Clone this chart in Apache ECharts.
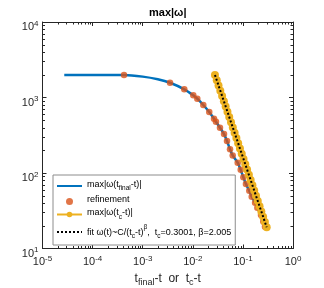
<!DOCTYPE html>
<html><head><meta charset="utf-8">
<script src="https://cdn.jsdelivr.net/npm/echarts@6/dist/echarts.min.js"></script>
<style>html,body{margin:0;padding:0;background:#fff}#c{width:324px;height:288px}</style>
</head><body><div id="c"></div>
<script>
// max|omega(t_final - t)| curve
const blueT = [2.72e-5, 5e-5, 1e-4, 2e-4, 4.24e-4, 1e-3, 2e-3, 3.51e-3, 6.76e-3, 0.01023, 0.0123, 0.0162, 0.0213, 0.0265, 0.029, 0.0349, 0.042, 0.0482, 0.0553, 0.0626, 0.0787, 0.0904, 0.102, 0.115, 0.134, 0.150, 0.175, 0.194, 0.230, 0.255, 0.276];
const blueW = [1986, 1986, 1986, 1985, 1984, 1890, 1745, 1570, 1285, 1069, 964, 796, 643, 524, 478, 397, 328, 266, 206, 171, 137, 110, 87.8, 71.4, 58.3, 48.6, 40.5, 34.7, 27.8, 22.7, 19.4];
// refinement points
const refT = [4.24e-4, 3.51e-3, 6.76e-3, 0.01023, 0.0123, 0.0162, 0.0213, 0.0265, 0.029, 0.0349, 0.042, 0.0482, 0.0553, 0.0626, 0.0787, 0.0904, 0.102, 0.115, 0.134, 0.150, 0.175, 0.194, 0.230, 0.255, 0.276];
const refW = [1984, 1570, 1285, 1069, 964, 796, 643, 524, 478, 397, 328, 266, 206, 171, 137, 110, 87.8, 71.4, 58.3, 48.6, 40.5, 34.7, 27.8, 22.7, 19.4];
// max|omega(t_c - t)|
const ycT = [0.0277, 0.03007, 0.03263, 0.03541, 0.03845, 0.04173, 0.04529, 0.04916, 0.05337, 0.05793, 0.06288, 0.06825, 0.07408, 0.0804, 0.08727, 0.09473, 0.1028, 0.1116, 0.1211, 0.1315, 0.1427, 0.1549, 0.1681, 0.1825, 0.1981, 0.2150, 0.2334, 0.2533, 0.2749, 0.2985];
const ycW = [1986, 1692, 1442, 1228, 1047, 891.9, 759.8, 647.4, 551.4, 469.9, 400.4, 341.1, 290.6, 247.6, 211.0, 179.7, 153.1, 130.5, 111.1, 94.7, 80.7, 68.7, 58.6, 49.9, 42.5, 36.2, 30.9, 26.3, 22.4, 19.1];
// fit line
const fitT = [0.0277, 0.2985];
const fitW = [1986, 19.1];

const xMin = 1e-5, xMax = 1, yMin = 10, yMax = 1e4;
const legendNames = ['max|ω(t_final-t)|', 'refinement', 'max|ω(t_c-t)|', 'fit'];

const FONT = 'Liberation Sans';
const AX = '#262626';
const BLUE = '#0072BD', ORANGE = '#D95319', YELLOW = '#EDB120';

function pairs(a, b) { return a.map((v, i) => [v, b[i]]); }

const minor = [];
for (let e = Math.log10(xMin); e < Math.log10(xMax); e++) for (let m = 2; m <= 9; m++) minor.push([m * Math.pow(10, e), 100, 0]);
for (let e = Math.log10(yMin); e < Math.log10(yMax); e++) for (let m = 2; m <= 9; m++) minor.push([1e-3, m * Math.pow(10, e), 1]);

const powFmt = v => '{b|10}{s|' + Math.round(Math.log10(v)) + '}';
const powRich = {
  b: { fontSize: 11, color: AX, fontFamily: FONT, verticalAlign: 'bottom' },
  s: { fontSize: 8, color: AX, fontFamily: FONT, verticalAlign: 'bottom', padding: [0, 0, 5, 0] }
};
const axLine = { show: true, lineStyle: { color: AX, width: 1 } };
const axTick = { show: true, inside: true, length: 4, lineStyle: { color: AX, width: 1 } };

const legRich = {
  t: { fontSize: 9, fontFamily: FONT, color: '#000', verticalAlign: 'bottom', padding: [0, 0, 3, 0] },
  sub: { fontSize: 6.5, fontFamily: FONT, color: '#000', verticalAlign: 'bottom' },
  sup: { fontSize: 6.5, fontFamily: FONT, color: '#000', verticalAlign: 'bottom', padding: [0, 0, 9, 0] }
};
const legFmt = {
  'max|ω(t_final-t)|': '{t|max|ω(t}{sub|final}{t|-t)|}',
  'refinement': '{t|refinement}',
  'max|ω(t_c-t)|': '{t|max|ω(t}{sub|c}{t|-t)|}',
  'fit': '{t|fit ω(t)~C/(t}{sub|c}{t|-t)}{sup|β}{t|,  t}{sub|c}{t|=0.3001, β=2.005}'
};
const hideSym = { opacity: 0 };

const chart = echarts.init(document.getElementById('c'), null, { renderer: 'canvas' });
chart.setOption({
  animation: false,
  backgroundColor: '#fff',
  title: {
    text: 'max|ω|', left: 144, top: 2,
    textStyle: { fontSize: 11, fontWeight: 'bold', fontFamily: FONT, color: '#000' }
  },
  grid: { left: 42.5, right: 31, top: 22, bottom: 39.5, containLabel: false, outerBoundsMode: 'none' },
  legend: {
    orient: 'vertical', left: 53, top: 175,
    data: [
      { name: legendNames[0], itemStyle: hideSym },
      { name: legendNames[1] },
      { name: legendNames[2] },
      { name: legendNames[3], itemStyle: hideSym }
    ],
    formatter: n => legFmt[n],
    textStyle: { rich: legRich, fontFamily: FONT },
    itemWidth: 25, itemHeight: 7, itemGap: 3.5,
    padding: [5, 4, 5, 3],
    backgroundColor: '#fff', borderColor: '#8c8c8c', borderWidth: 1,
    selectedMode: false
  },
  xAxis: [{
    type: 'log', logBase: 10, min: xMin, max: xMax, position: 'bottom',
    axisLine: axLine, axisTick: axTick, splitLine: { show: false },
    axisLabel: { formatter: powFmt, rich: powRich, margin: 6 },
    name: '{t|t}{sub|final}{t|-t  or  t}{sub|c}{t|-t}', nameLocation: 'middle', nameGap: 19,
    nameTextStyle: { rich: {
      t: { fontSize: 12, lineHeight: 12, fontFamily: FONT, color: AX, verticalAlign: 'bottom', padding: [0, 0, 3, 0] },
      sub: { fontSize: 9, lineHeight: 9, fontFamily: FONT, color: AX, verticalAlign: 'bottom' }
    } }
  }, {
    type: 'log', logBase: 10, min: xMin, max: xMax, position: 'top',
    axisLine: axLine, axisTick: axTick, splitLine: { show: false }, axisLabel: { show: false }
  }],
  yAxis: [{
    type: 'log', logBase: 10, min: yMin, max: yMax, position: 'left',
    axisLine: axLine, axisTick: axTick, splitLine: { show: false },
    axisLabel: { formatter: powFmt, rich: powRich, margin: 4, padding: [8, 0, 0, 0] }
  }, {
    type: 'log', logBase: 10, min: yMin, max: yMax, position: 'right',
    axisLine: axLine, axisTick: axTick, splitLine: { show: false }, axisLabel: { show: false }
  }],
  series: [
    {
      name: legendNames[0], type: 'line', data: pairs(blueT, blueW), symbol: 'none',
      smooth: 0.3, lineStyle: { color: BLUE, width: 2.5 }, itemStyle: { color: BLUE }, z: 2
    },
    {
      name: legendNames[1], type: 'scatter', data: pairs(refT, refW), symbol: 'circle', symbolSize: 6.5,
      itemStyle: { color: ORANGE }, z: 3
    },
    {
      name: legendNames[2], type: 'line', data: pairs(ycT, ycW), symbol: 'circle', symbolSize: 8,
      showSymbol: true, lineStyle: { color: YELLOW, width: 2 }, itemStyle: { color: YELLOW, borderWidth: 0 }, z: 4
    },
    {
      name: legendNames[3], type: 'line', data: pairs(fitT, fitW), symbol: 'none',
      lineStyle: { color: '#000', width: 2, type: [2, 2] }, itemStyle: { color: '#000' }, z: 5
    },
    {
      type: 'custom', data: minor, silent: true, z: 6, clip: false,
      renderItem: (params, api) => {
        const cs = params.coordSys;
        const st = { stroke: AX, lineWidth: 1 };
        if (api.value(2) === 0) {
          const x = Math.round(api.coord([api.value(0), 100])[0]) + 0.5;
          const yb = cs.y + cs.height, yt = cs.y;
          return { type: 'group', children: [
            { type: 'line', shape: { x1: x, y1: yb, x2: x, y2: yb - 2.5 }, style: st },
            { type: 'line', shape: { x1: x, y1: yt, x2: x, y2: yt + 2.5 }, style: st }
          ] };
        } else {
          const y = Math.round(api.coord([1e-3, api.value(1)])[1]) + 0.5;
          const xl = cs.x, xr = cs.x + cs.width;
          return { type: 'group', children: [
            { type: 'line', shape: { x1: xl, y1: y, x2: xl + 2.5, y2: y }, style: st },
            { type: 'line', shape: { x1: xr, y1: y, x2: xr - 2.5, y2: y }, style: st }
          ] };
        }
      }
    }
  ]
});
</script></body></html>
